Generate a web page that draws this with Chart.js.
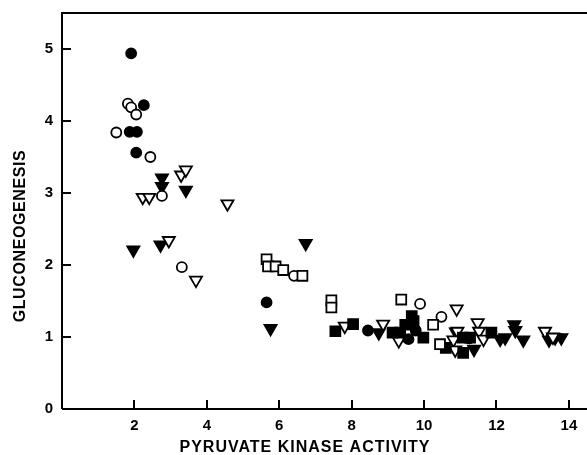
<!DOCTYPE html>
<html>
<head>
<meta charset="utf-8">
<script src="https://cdn.jsdelivr.net/npm/chart.js@4.4.1/dist/chart.umd.min.js"></script>
<style>
  html, body { margin: 0; padding: 0; background: #fff; overflow: hidden; }
  #wrap { width: 587px; height: 455px; position: relative; }
</style>
</head>
<body>
<div id="wrap"><canvas id="c"></canvas></div>
<script>
// ---- data ----
const xTitle = 'PYRUVATE KINASE ACTIVITY';
const yTitle = 'GLUCONEOGENESIS';
const xTickValues = [2, 4, 6, 8, 10, 12, 14];
const yTickValues = [0, 1, 2, 3, 4, 5];

const filledCirclesX = [1.91, 2.26, 1.87, 2.07, 2.05, 5.65, 8.45, 9.57, 9.77, 11.25];
const filledCirclesY = [4.94, 4.22, 3.85, 3.85, 3.56, 1.48, 1.09, 0.97, 1.09, 0.98];

const openCirclesX = [1.82, 1.91, 2.05, 1.50, 2.44, 2.76, 3.31, 6.41, 9.89, 10.48];
const openCirclesY = [4.24, 4.19, 4.09, 3.84, 3.50, 2.96, 1.97, 1.85, 1.46, 1.28];

const filledTrianglesX = [2.76, 2.76, 3.42, 1.97, 2.72, 5.76, 6.73, 8.75, 10.88, 11.38, 12.10, 12.24, 12.49, 12.52, 12.74, 13.45, 13.62, 13.79];
const filledTrianglesY = [3.21, 3.09, 3.04, 2.21, 2.28, 1.12, 2.30, 1.06, 1.07, 0.83, 0.97, 0.99, 1.17, 1.09, 0.96, 0.96, 0.99, 0.99];

const openTrianglesX = [2.23, 2.41, 3.29, 3.42, 4.57, 2.95, 3.70, 7.81, 8.87, 9.30, 10.90, 10.92, 10.81, 10.86, 11.48, 11.52, 11.64, 13.34, 13.56];
const openTrianglesY = [2.94, 2.94, 3.25, 3.32, 2.85, 2.34, 1.79, 1.15, 1.18, 0.95, 1.39, 1.08, 0.96, 0.82, 1.20, 1.08, 0.97, 1.08, 1.00];

const openSquaresX = [5.65, 5.69, 5.90, 6.11, 6.64, 7.44, 7.44, 9.37, 10.25, 10.44];
const openSquaresY = [2.08, 1.98, 1.98, 1.93, 1.85, 1.51, 1.41, 1.52, 1.17, 0.90];

const filledSquaresX = [7.55, 8.04, 9.13, 9.34, 9.48, 9.66, 9.71, 9.98, 10.60, 11.08, 11.07, 11.27, 11.86];
const filledSquaresY = [1.08, 1.18, 1.06, 1.06, 1.17, 1.29, 1.22, 0.99, 0.85, 0.78, 0.99, 0.99, 1.06];

function pts(xs, ys) { return xs.map((x, i) => ({ x: x, y: ys[i] })); }

const FONT = '"Liberation Sans", Arial, sans-serif';

function ds(label, xs, ys, style, filled, radius, rotation) {
  return {
    label: label,
    data: pts(xs, ys),
    pointStyle: style,
    pointRadius: radius,
    pointHoverRadius: radius,
    pointRotation: rotation || 0,
    pointBackgroundColor: filled ? '#000' : '#fff',
    pointBorderColor: '#000',
    pointBorderWidth: 1.8,
    showLine: false
  };
}

const framePlugin = {
  id: 'frame',
  afterDraw(chart) {
    const ctx = chart.ctx;
    const a = chart.chartArea;
    const xs = chart.scales.x, ys = chart.scales.y;
    ctx.save();
    ctx.strokeStyle = '#000';
    ctx.lineWidth = 2;
    ctx.beginPath();
    ctx.moveTo(a.left, a.bottom);
    ctx.lineTo(a.left, a.top);
    ctx.lineTo(a.right, a.top);
    ctx.moveTo(a.left, a.bottom);
    ctx.lineTo(a.right, a.bottom);
    ctx.stroke();
    ctx.beginPath();
    xTickValues.forEach(v => {
      const px = Math.round(xs.getPixelForValue(v));
      ctx.moveTo(px, a.bottom);
      ctx.lineTo(px, a.bottom - 9);
    });
    yTickValues.forEach(v => {
      if (v === 0) return;
      const py = Math.round(ys.getPixelForValue(v));
      ctx.moveTo(a.left, py);
      ctx.lineTo(a.left + 9, py);
    });
    ctx.stroke();
    ctx.fillStyle = '#000';
    ctx.font = 'bold 16px ' + FONT;
    ctx.textBaseline = 'middle';
    ctx.textAlign = 'left';
    ctx.letterSpacing = '0px';
    let w = ctx.measureText(xTitle).width;
    let ls = (250 - w) / (xTitle.length - 1);
    ctx.letterSpacing = ls + 'px';
    w = ctx.measureText(xTitle).width;
    ctx.fillText(xTitle, 305 - w / 2, 448);
    ctx.letterSpacing = '0px';
    let wy = ctx.measureText(yTitle).width;
    let lsy = (172 - wy) / (yTitle.length - 1);
    ctx.letterSpacing = lsy + 'px';
    wy = ctx.measureText(yTitle).width;
    ctx.translate(21, 236);
    ctx.rotate(-Math.PI / 2);
    ctx.fillText(yTitle, -wy / 2, 0);
    ctx.restore();
  }
};

new Chart(document.getElementById('c'), {
  type: 'scatter',
  data: {
    datasets: [
      ds('open squares', openSquaresX, openSquaresY, 'rect', false, 7),
      ds('filled squares', filledSquaresX, filledSquaresY, 'rect', true, 7),
      ds('open circles', openCirclesX, openCirclesY, 'circle', false, 5),
      ds('filled circles', filledCirclesX, filledCirclesY, 'circle', true, 5),
      ds('open triangles', openTrianglesX, openTrianglesY, 'triangle', false, 7, 180),
      ds('filled triangles', filledTrianglesX, filledTrianglesY, 'triangle', true, 7, 180)
    ]
  },
  options: {
    responsive: true,
    maintainAspectRatio: false,
    animation: false,
    events: [],
    layout: { autoPadding: false, padding: { top: 13, right: 0, left: 0, bottom: 0 } },
    plugins: { legend: { display: false }, tooltip: { enabled: false } },
    scales: {
      x: {
        type: 'linear',
        min: 0,
        max: 14.5,
        grid: { display: false, drawTicks: false },
        border: { display: false },
        afterFit(s) { s.height = 46; s.paddingLeft = 0; s.paddingRight = 0; },
        afterBuildTicks(s) { s.ticks = xTickValues.map(v => ({ value: v })); },
        ticks: {
          padding: 8,
          color: '#000',
          maxRotation: 0,
          font: { family: FONT, weight: 'bold', size: 15 }
        }
      },
      y: {
        type: 'linear',
        min: 0,
        max: 5.5,
        grid: { display: false, drawTicks: false },
        border: { display: false },
        afterFit(s) { s.width = 62; s.paddingTop = 0; s.paddingBottom = 0; },
        afterBuildTicks(s) { s.ticks = yTickValues.map(v => ({ value: v })); },
        ticks: {
          padding: 9,
          color: '#000',
          font: { family: FONT, weight: 'bold', size: 15 }
        }
      }
    }
  },
  plugins: [framePlugin]
});
</script>
</body>
</html>
